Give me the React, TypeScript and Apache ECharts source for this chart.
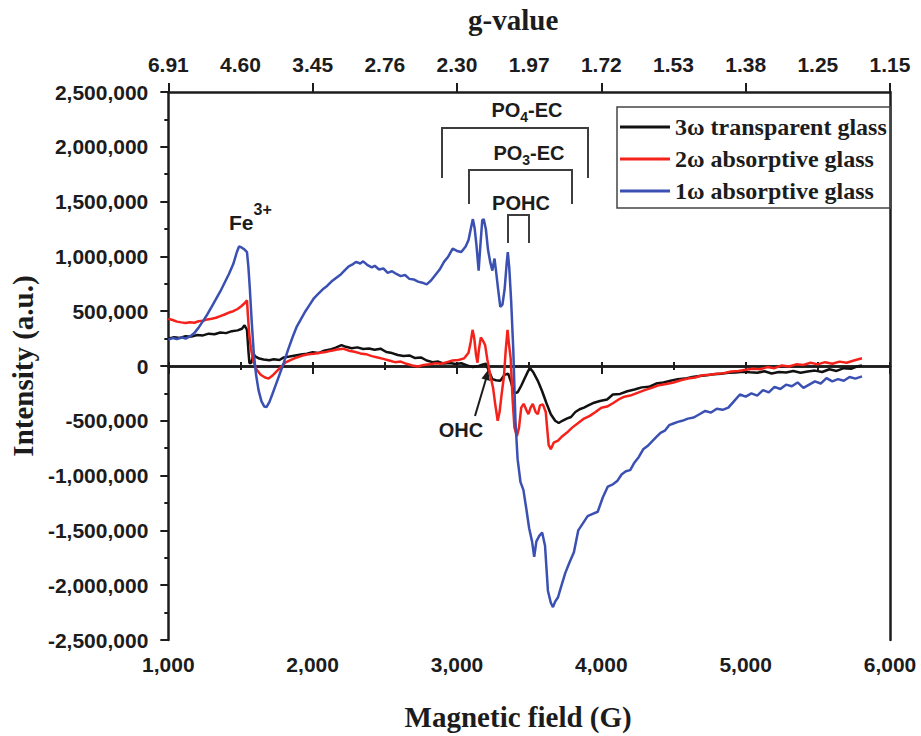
import React, { useEffect, useRef } from "react";
import * as echarts from "echarts";

// EPR spectra: magnetic field (G) vs. intensity (a.u.)
const transparent3w: [number, number][] = [
  [1000, 250000], [1040, 262000], [1080, 255000], [1120, 272000], [1160, 268000], [1200, 283000],
  [1240, 279000], [1280, 295000], [1320, 290000], [1360, 306000], [1400, 300000], [1440, 318000],
  [1480, 325000], [1510, 340000], [1528, 372000], [1545, 330000], [1556, 120000], [1562, 25000],
  [1575, 30000], [1590, 110000], [1605, 85000], [1630, 68000], [1660, 60000], [1700, 52000],
  [1730, 62000], [1770, 55000], [1800, 78000], [1840, 86000], [1880, 95000], [1920, 104000],
  [1960, 112000], [2000, 125000], [2040, 118000], [2080, 140000], [2120, 150000], [2160, 168000],
  [2200, 190000], [2230, 175000], [2270, 162000], [2310, 170000], [2350, 155000], [2390, 160000],
  [2430, 148000], [2470, 158000], [2510, 128000], [2550, 118000], [2590, 100000], [2630, 92000],
  [2670, 96000], [2710, 72000], [2750, 78000], [2790, 50000], [2830, 35000], [2870, 40000],
  [2910, 22000], [2950, 28000], [2990, 18000], [3030, 25000], [3070, 5000], [3110, -10000],
  [3150, 0], [3180, 15000], [3200, 20000], [3220, -40000], [3245, -120000], [3270, -130000],
  [3300, -135000], [3330, -80000], [3355, -70000], [3375, -150000], [3395, -250000], [3420, -240000],
  [3445, -180000], [3470, -110000], [3495, -40000], [3510, -25000], [3530, -60000], [3560, -135000],
  [3590, -230000], [3620, -340000], [3650, -440000], [3680, -500000], [3705, -520000], [3730, -500000],
  [3760, -480000], [3790, -465000], [3820, -420000], [3850, -395000], [3880, -380000], [3910, -360000],
  [3950, -335000], [3990, -320000], [4040, -305000], [4080, -260000], [4130, -255000], [4180, -230000],
  [4230, -215000], [4280, -195000], [4330, -190000], [4380, -160000], [4430, -150000], [4480, -135000],
  [4530, -120000], [4580, -115000], [4630, -100000], [4680, -92000], [4730, -85000], [4780, -75000],
  [4830, -70000], [4880, -62000], [4930, -60000], [4980, -52000], [5030, -58000], [5080, -62000],
  [5130, -48000], [5180, -68000], [5230, -55000], [5280, -60000], [5330, -45000], [5380, -62000],
  [5430, -50000], [5480, -42000], [5530, -55000], [5580, -30000], [5630, -45000], [5680, -20000],
  [5730, -25000], [5770, -5000], [5806, 5000],
];

const absorptive2w: [number, number][] = [
  [1000, 431000], [1030, 420000], [1060, 405000], [1090, 398000], [1120, 392000], [1150, 400000],
  [1180, 395000], [1210, 408000], [1240, 412000], [1270, 425000], [1300, 432000], [1330, 440000],
  [1360, 455000], [1390, 470000], [1420, 488000], [1450, 500000], [1480, 520000], [1505, 545000],
  [1530, 575000], [1545, 600000], [1552, 450000], [1560, 300000], [1572, 160000], [1590, 40000],
  [1610, -30000], [1640, -80000], [1670, -105000], [1695, -115000], [1720, -90000], [1750, -50000],
  [1780, -10000], [1810, 30000], [1850, 55000], [1890, 78000], [1930, 95000], [1970, 108000],
  [2010, 112000], [2050, 120000], [2090, 128000], [2130, 140000], [2170, 150000], [2210, 158000],
  [2250, 140000], [2290, 130000], [2330, 115000], [2370, 108000], [2410, 90000], [2450, 78000],
  [2490, 65000], [2530, 50000], [2570, 35000], [2610, 40000], [2650, 20000], [2690, 5000],
  [2730, -5000], [2770, 10000], [2810, 15000], [2850, 25000], [2890, 20000], [2930, 35000],
  [2970, 50000], [3010, 55000], [3050, 70000], [3080, 120000], [3095, 220000], [3108, 330000],
  [3120, 250000], [3132, 100000], [3142, 30000], [3152, 150000], [3165, 260000], [3180, 230000],
  [3195, 190000], [3210, 60000], [3230, -80000], [3250, -200000], [3265, -350000], [3282, -500000],
  [3295, -420000], [3310, -250000], [3325, -100000], [3338, 150000], [3350, 330000], [3360, 200000],
  [3372, 70000], [3385, -300000], [3398, -560000], [3415, -640000], [3430, -560000], [3445, -380000],
  [3462, -345000], [3480, -400000], [3495, -440000], [3510, -380000], [3525, -345000], [3545, -420000],
  [3560, -440000], [3575, -360000], [3595, -350000], [3615, -420000], [3635, -720000], [3650, -760000],
  [3670, -700000], [3700, -680000], [3730, -640000], [3760, -610000], [3800, -560000], [3840, -520000],
  [3880, -480000], [3920, -455000], [3960, -420000], [4000, -380000], [4040, -370000], [4080, -340000],
  [4120, -305000], [4160, -280000], [4200, -270000], [4250, -245000], [4300, -220000], [4350, -200000],
  [4400, -175000], [4450, -165000], [4500, -150000], [4550, -130000], [4600, -115000], [4650, -105000],
  [4700, -85000], [4750, -80000], [4800, -70000], [4850, -65000], [4900, -50000], [4950, -45000],
  [5000, -35000], [5050, -25000], [5100, -30000], [5150, -10000], [5200, -20000], [5250, 5000],
  [5300, -5000], [5350, 15000], [5400, 10000], [5450, 30000], [5500, 15000], [5550, 35000],
  [5600, 20000], [5650, 40000], [5700, 30000], [5750, 50000], [5806, 70000],
];

const absorptive1w: [number, number][] = [
  [1000, 240000], [1030, 255000], [1060, 245000], [1090, 262000], [1120, 250000], [1150, 270000],
  [1180, 300000], [1210, 350000], [1240, 410000], [1270, 470000], [1300, 540000], [1330, 610000],
  [1360, 680000], [1390, 760000], [1420, 840000], [1450, 930000], [1475, 1040000], [1490, 1090000],
  [1510, 1080000], [1530, 1060000], [1545, 1040000], [1555, 900000], [1565, 700000], [1578, 400000],
  [1592, 120000], [1608, -80000], [1625, -220000], [1645, -320000], [1665, -370000], [1680, -375000],
  [1700, -330000], [1720, -260000], [1745, -170000], [1770, -80000], [1800, 30000], [1830, 150000],
  [1860, 260000], [1890, 360000], [1920, 430000], [1950, 500000], [1980, 560000], [2010, 620000],
  [2040, 660000], [2070, 700000], [2100, 730000], [2130, 770000], [2160, 800000], [2190, 830000],
  [2220, 870000], [2250, 910000], [2280, 930000], [2300, 950000], [2330, 935000], [2350, 955000],
  [2380, 920000], [2410, 900000], [2430, 915000], [2460, 880000], [2490, 890000], [2520, 850000],
  [2550, 865000], [2580, 840000], [2610, 820000], [2640, 830000], [2670, 795000], [2700, 790000],
  [2730, 770000], [2760, 760000], [2790, 745000], [2820, 780000], [2850, 830000], [2880, 880000],
  [2910, 950000], [2940, 1000000], [2970, 1070000], [3000, 1050000], [3030, 1040000], [3060, 1090000],
  [3080, 1150000], [3100, 1280000], [3110, 1340000], [3122, 1260000], [3135, 1100000], [3150, 870000],
  [3162, 1100000], [3175, 1330000], [3185, 1340000], [3200, 1250000], [3215, 1060000], [3230, 950000],
  [3245, 870000], [3260, 980000], [3272, 850000], [3285, 700000], [3300, 540000], [3315, 560000],
  [3330, 700000], [3345, 950000], [3352, 1040000], [3362, 900000], [3375, 600000], [3390, 150000],
  [3405, -500000], [3420, -850000], [3440, -1060000], [3460, -1130000], [3480, -1300000], [3500, -1480000],
  [3520, -1600000], [3535, -1740000], [3550, -1600000], [3570, -1550000], [3590, -1520000], [3610, -1640000],
  [3630, -2050000], [3650, -2160000], [3665, -2200000], [3680, -2150000], [3700, -2110000], [3720, -2020000],
  [3750, -1890000], [3780, -1790000], [3810, -1700000], [3840, -1500000], [3870, -1440000], [3905, -1370000],
  [3940, -1350000], [3975, -1330000], [4010, -1200000], [4045, -1100000], [4080, -1080000], [4110, -1050000],
  [4140, -990000], [4170, -960000], [4200, -950000], [4230, -880000], [4260, -830000], [4290, -760000],
  [4320, -730000], [4350, -690000], [4380, -650000], [4410, -610000], [4440, -590000], [4470, -540000],
  [4500, -525000], [4530, -510000], [4560, -500000], [4600, -480000], [4640, -470000], [4680, -440000],
  [4720, -410000], [4760, -425000], [4800, -390000], [4840, -400000], [4880, -380000], [4920, -320000],
  [4960, -260000], [5000, -280000], [5040, -250000], [5080, -270000], [5120, -220000], [5160, -240000],
  [5200, -190000], [5240, -210000], [5280, -170000], [5320, -185000], [5360, -150000], [5400, -200000],
  [5440, -170000], [5480, -140000], [5520, -160000], [5560, -110000], [5600, -140000], [5640, -120000],
  [5680, -135000], [5720, -100000], [5760, -115000], [5806, -95000],
];

const seriesNames = ["3ω transparent glass", "2ω absorptive glass", "1ω absorptive glass"];
const seriesColors = ["#111111", "#f5221b", "#3a50b2"];

// g-value labels of the top axis, one per 500 G step from 1,000 G
const gTickLabels = ["6.91", "4.60", "3.45", "2.76", "2.30", "1.97", "1.72", "1.53", "1.38", "1.25", "1.15"];

const SANS = "'Liberation Sans', Arial, sans-serif";
const SERIF = "'Liberation Serif', 'Times New Roman', serif";
const INK = "#1c1c1c";
const BRACKET = "#3d3d3d";

const withCommas = (v: number) => {
  const s = Math.abs(v).toFixed(0).replace(/\B(?=(\d{3})+(?!\d))/g, ",");
  return v < 0 ? "-" + s : s;
};

const tickFont = { fontFamily: SANS, fontWeight: "bold" as const, fontSize: 21, color: INK };
const titleFont = { fontFamily: SERIF, fontWeight: "bold" as const, fontSize: 29, color: INK };
const annFont = { fontFamily: SANS, fontWeight: "bold" as const, fontSize: 20, fill: INK };

export default function App() {
  const ref = useRef<HTMLDivElement>(null);

  useEffect(() => {
    if (!ref.current) return;
    const chart = echarts.init(ref.current, undefined, { renderer: "svg" });

    const axisLine = { show: true, lineStyle: { color: INK, width: 2.5 } };
    const tickLine = { color: INK, width: 2 };

    chart.setOption({
      animation: false,
      backgroundColor: "#ffffff",
      grid: { left: 167, top: 90, width: 723, height: 551, containLabel: false },
      legend: {
        orient: "vertical",
        left: 617,
        top: 107,
        data: seriesNames,
        icon: "rect",
        itemWidth: 50,
        itemHeight: 3,
        itemGap: 6,
        padding: [7, 4, 4, 3],
        borderColor: "#444",
        borderWidth: 1.5,
        textStyle: { fontFamily: SERIF, fontWeight: "bold", fontSize: 24, color: INK, lineHeight: 26 },
      },
      xAxis: [
        {
          type: "value",
          position: "bottom",
          min: 1000,
          max: 6000,
          interval: 1000,
          axisLine,
          axisTick: { show: true, inside: false, length: 8, lineStyle: tickLine },
          minorTick: { show: true, splitNumber: 2, length: 4, lineStyle: tickLine },
          splitLine: { show: false },
          axisLabel: { ...tickFont, margin: 14, formatter: (v: number) => withCommas(v) },
          name: "Magnetic field (G)",
          nameLocation: "middle",
          nameGap: 62,
          nameTextStyle: { ...titleFont, padding: [0, 22, 0, 0] },
        },
        {
          type: "value",
          position: "top",
          min: 1000,
          max: 6000,
          interval: 500,
          axisLine,
          axisTick: { show: true, inside: false, length: 4, lineStyle: tickLine },
          splitLine: { show: false },
          axisLabel: {
            ...tickFont,
            margin: 17,
            formatter: (v: number) => gTickLabels[Math.round((v - 1000) / 500)] ?? "",
          },
          name: "g-value",
          nameLocation: "middle",
          nameGap: 58,
          nameTextStyle: { ...titleFont, padding: [0, 32, 0, 0] },
        },
        {
          type: "value",
          position: "top",
          min: 1000,
          max: 6000,
          interval: 1000,
          axisLine,
          axisTick: { show: true, inside: false, length: 9, lineStyle: tickLine },
          splitLine: { show: false },
          axisLabel: { show: false },
        },
      ],
      yAxis: [
        {
          type: "value",
          position: "left",
          min: -2500000,
          max: 2500000,
          interval: 500000,
          axisLine,
          axisTick: { show: true, inside: false, length: 8, lineStyle: tickLine },
          minorTick: { show: true, splitNumber: 2, length: 4, lineStyle: tickLine },
          splitLine: { show: false },
          axisLabel: { ...tickFont, margin: 20, formatter: (v: number) => withCommas(v) },
          name: "Intensity (a.u.)",
          nameLocation: "middle",
          nameGap: 131,
          nameRotate: 90,
          nameTextStyle: { ...titleFont },
        },
        {
          type: "value",
          position: "right",
          min: -2500000,
          max: 2500000,
          axisLine,
          axisTick: { show: false },
          axisLabel: { show: false },
          splitLine: { show: false },
        },
      ],
      series: [transparent3w, absorptive2w, absorptive1w].map((data, i) => ({
        name: seriesNames[i],
        type: "line",
        xAxisIndex: 0,
        yAxisIndex: 0,
        data,
        showSymbol: false,
        symbol: "none",
        lineStyle: { color: seriesColors[i], width: 2.5 },
        itemStyle: { color: seriesColors[i] },
        z: 2 + i,
      })),
      graphic: [
        // PO4-EC bracket
        {
          type: "polyline",
          shape: { points: [[442, 178], [442, 128], [588, 128], [588, 178]] },
          style: { stroke: BRACKET, lineWidth: 2, fill: null },
        },
        // PO3-EC bracket
        {
          type: "polyline",
          shape: { points: [[469, 204], [469, 170], [572, 170], [572, 204]] },
          style: { stroke: BRACKET, lineWidth: 2, fill: null },
        },
        // POHC bracket
        {
          type: "polyline",
          shape: { points: [[508, 243], [508, 215], [529, 215], [529, 243]] },
          style: { stroke: BRACKET, lineWidth: 2, fill: null },
        },
        {
          type: "text",
          x: 527,
          y: 110,
          style: {
            text: "{m|PO}{s|4}{m|-EC}",
            align: "center",
            verticalAlign: "middle",
            rich: {
              m: { ...annFont, lineHeight: 28 },
              s: { ...annFont, fontSize: 14, verticalAlign: "bottom", lineHeight: 28 },
            },
          },
        },
        {
          type: "text",
          x: 529,
          y: 153,
          style: {
            text: "{m|PO}{s|3}{m|-EC}",
            align: "center",
            verticalAlign: "middle",
            rich: {
              m: { ...annFont, lineHeight: 28 },
              s: { ...annFont, fontSize: 14, verticalAlign: "bottom", lineHeight: 28 },
            },
          },
        },
        {
          type: "text",
          x: 521,
          y: 203,
          style: { text: "POHC", align: "center", verticalAlign: "middle", ...annFont },
        },
        {
          type: "text",
          x: 229,
          y: 217,
          style: {
            text: "{m|Fe}{p|3+}",
            align: "left",
            verticalAlign: "middle",
            rich: {
              m: { ...annFont, fontSize: 21, lineHeight: 32, verticalAlign: "bottom" },
              p: { ...annFont, fontSize: 16, verticalAlign: "top", lineHeight: 32 },
            },
          },
        },
        {
          type: "text",
          x: 461,
          y: 430,
          style: { text: "OHC", align: "center", verticalAlign: "middle", ...annFont },
        },
        // OHC arrow
        {
          type: "line",
          shape: { x1: 475, y1: 416, x2: 486, y2: 379 },
          style: { stroke: INK, lineWidth: 2 },
        },
        {
          type: "polygon",
          shape: { points: [[488, 370], [490, 381], [481.5, 378.5]] },
          style: { fill: INK },
        },
      ],
    });

    return () => chart.dispose();
  }, []);

  // pinned to the page origin so chart coordinates equal page coordinates
  return (
    <div
      ref={ref}
      style={{ position: "fixed", left: 0, top: 0, width: 921, height: 736, background: "#fff" }}
    />
  );
}
